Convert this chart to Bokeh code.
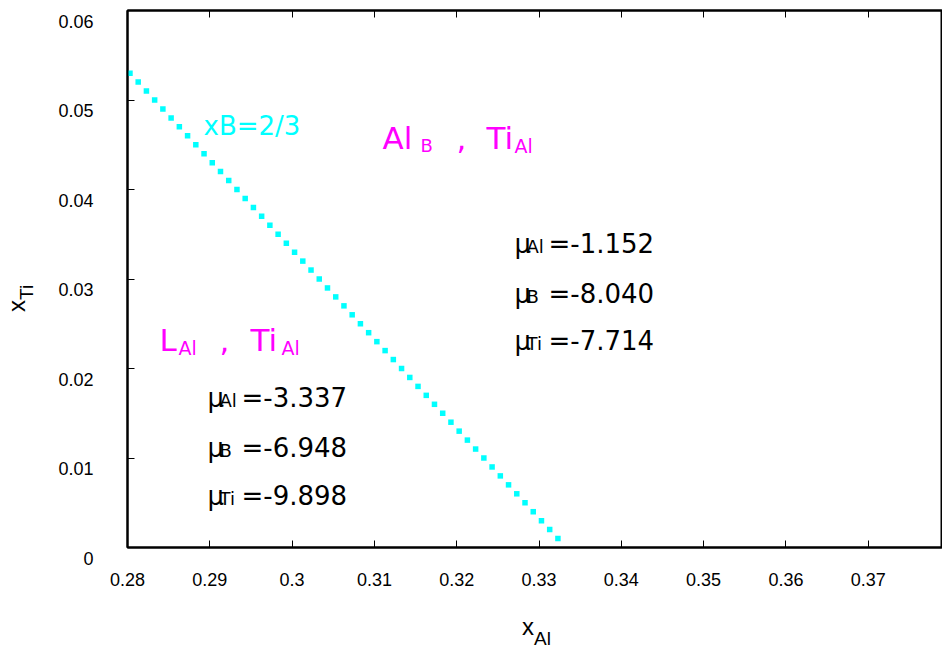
from bokeh.plotting import figure
from bokeh.models import Label, LinearAxis, FixedTicker, Range1d, Div
from bokeh.layouts import row, column
from bokeh.embed import file_html
from bokeh.resources import INLINE

# ---- data (xB = 2/3 composition line) ----
x_ti = [0.053, 0.052, 0.051, 0.050, 0.049, 0.048, 0.047, 0.046, 0.045, 0.044,
        0.043, 0.042, 0.041, 0.040, 0.039, 0.038, 0.037, 0.036, 0.035, 0.034,
        0.033, 0.032, 0.031, 0.030, 0.029, 0.028, 0.027, 0.026, 0.025, 0.024,
        0.023, 0.022, 0.021, 0.020, 0.019, 0.018, 0.017, 0.016, 0.015, 0.014,
        0.013, 0.012, 0.011, 0.010, 0.009, 0.008, 0.007, 0.006, 0.005, 0.004,
        0.003, 0.002, 0.001]
x_al = [0.2803, 0.2813, 0.2823, 0.2833, 0.2843, 0.2853, 0.2863, 0.2873, 0.2883, 0.2893,
        0.2903, 0.2913, 0.2923, 0.2933, 0.2943, 0.2953, 0.2963, 0.2973, 0.2983, 0.2993,
        0.3003, 0.3013, 0.3023, 0.3033, 0.3043, 0.3053, 0.3063, 0.3073, 0.3083, 0.3093,
        0.3103, 0.3113, 0.3123, 0.3133, 0.3143, 0.3153, 0.3163, 0.3173, 0.3183, 0.3193,
        0.3203, 0.3213, 0.3223, 0.3233, 0.3243, 0.3253, 0.3263, 0.3273, 0.3283, 0.3293,
        0.3303, 0.3313, 0.3323]

x_ticks = [0.28, 0.29, 0.30, 0.31, 0.32, 0.33, 0.34, 0.35, 0.36, 0.37]
x_tick_labels = ["0.28", "0.29", "0.3", "0.31", "0.32", "0.33", "0.34", "0.35", "0.36", "0.37"]
y_ticks = [0.0, 0.01, 0.02, 0.03, 0.04, 0.05, 0.06]
y_tick_labels = ["0", "0.01", "0.02", "0.03", "0.04", "0.05", "0.06"]

line_label = "xB=2/3"
region_right = ["Al", "B", "Ti", "Al"]
region_left = ["L", "Al", "Ti", "Al"]
mu_right = ["-1.152", "-8.040", "-7.714"]
mu_left = ["-3.337", "-6.948", "-9.898"]
mu_subs = ["Al", "B", "Ti"]
x_title = ("x", "Al")
y_title = ("x", "Ti")

# ---- geometry (page pixels) ----
YDIV_W = 40
FL, FT, FW, FH = 127, 10, 815, 537
X0 = 0.28
X1 = 0.28 + FW / 8230.0
Y0, Y1 = 0.0, 0.06
P_H = 600


def dx(px):
    return X0 + (px - FL) * (X1 - X0) / FW


def dy(py):
    return Y0 + (FT + FH - py) * (Y1 - Y0) / FH


p = figure(width=(FL - YDIV_W) + FW, height=P_H, output_backend="svg", toolbar_location=None,
           x_range=Range1d(X0, X1), y_range=Range1d(Y0, Y1),
           frame_width=FW, frame_height=FH,
           min_border_left=FL - YDIV_W, min_border_right=0, min_border_top=FT,
           min_border_bottom=P_H - FT - FH, x_axis_location=None, y_axis_location=None)
p.grid.visible = False
p.outline_line_color = "black"
p.outline_line_width = 2
p.background_fill_color = "white"
p.border_fill_color = "white"

TICK_FONT = "Liberation Sans"


def style_axis(ax, labels=True):
    ax.axis_line_color = "black"
    ax.axis_line_width = 2
    ax.major_tick_in = 7
    ax.major_tick_out = 0
    ax.major_tick_line_color = "black"
    ax.major_tick_line_width = 1
    ax.minor_tick_line_color = None
    ax.major_label_text_font = TICK_FONT
    ax.major_label_text_font_size = "18px" if labels else "0px"
    ax.major_label_text_color = "black"


xax = LinearAxis(ticker=FixedTicker(ticks=x_ticks))
xax.major_label_overrides = dict(zip(x_ticks, x_tick_labels))
style_axis(xax)
xax.major_label_standoff = 25
p.add_layout(xax, "below")

yax = LinearAxis(ticker=FixedTicker(ticks=y_ticks))
# gnuplot-style labels sit a little below their ticks
yax.major_label_overrides = {t: ("\n\n" + s if t < y_ticks[-1] else "\n" + s)
                             for t, s in zip(y_ticks, y_tick_labels)}
style_axis(yax)
yax.major_label_text_line_height = 0.55
yax.major_label_standoff = 34
p.add_layout(yax, "left")

tax = LinearAxis(ticker=FixedTicker(ticks=x_ticks))
style_axis(tax, labels=False)
tax.major_label_standoff = 0
tax.major_label_overrides = {t: "" for t in x_ticks}
p.add_layout(tax, "above")

# ---- data points ----
p.scatter(x_al, x_ti, marker="square", size=5.5, fill_color="#00ffff",
          line_color=None)


def lab(txt, px, py, size, color="black", font="DejaVu Sans"):
    p.add_layout(Label(x=dx(px), y=dy(py), text=txt, text_font=font,
                       text_font_size=size, text_color=color,
                       text_align="left", text_baseline="alphabetic"))


MAG = "#ff00ff"
CY = "#00ffff"

lab(line_label, 203, 125, "26px", CY)

# Al_B , Ti_Al
lab(region_right[0], 382, 137, "31px", MAG)
lab(region_right[1], 420, 145, "18px", MAG)
lab(",", 456, 137, "31px", MAG)
lab(region_right[2], 486, 137, "31px", MAG)
lab(region_right[3], 514, 145, "19px", MAG)

# L_Al , Ti_Al
lab(region_left[0], 159, 339, "31px", MAG)
lab(region_left[1], 178, 347, "19px", MAG)
lab(",", 219, 339, "31px", MAG)
lab(region_left[2], 250, 339, "31px", MAG)
lab(region_left[3], 281, 347, "19px", MAG)


def mu_block(left, baselines, vals):
    for b, s, v in zip(baselines, mu_subs, vals):
        lab("\u03bc", left - 2, b, "26px")
        lab(s, left + 10, b + 3, "18px")
        lab("=" + v, left + 32, b, "26px")


mu_block(516, [243, 293, 340], mu_right)
mu_block(209, [397, 447, 495], mu_left)

# ---- axis titles with subscripts (HTML text) ----
FONT_CSS = "font-family:'Liberation Sans',Arial,sans-serif;font-size:24px;line-height:24px;white-space:nowrap;color:black;"
SUB_CSS = "font-size:19px;position:relative;top:%dpx;"

xdiv = Div(width=(FL - YDIV_W) + FW, height=45, margin=(0, 0, 0, 0),
           text=('<div style="padding-left:%dpx;padding-top:15px;%s">%s'
                 '<span style="%s">%s</span></div>')
           % (522 - YDIV_W, FONT_CSS, x_title[0], SUB_CSS % 10, x_title[1]))

ydiv = Div(width=YDIV_W, height=P_H, margin=(0, 0, 0, 0),
           text=('<div style="position:relative;left:5px;top:312px;transform-origin:0 0;'
                 'transform:rotate(-90deg);%s">%s<span style="%s">%s</span></div>')
           % (FONT_CSS, y_title[0], SUB_CSS % 8, y_title[1]))

layout = row(ydiv, column(p, xdiv, spacing=0), spacing=0)

open("out.html", "w").write(file_html(layout, INLINE))
